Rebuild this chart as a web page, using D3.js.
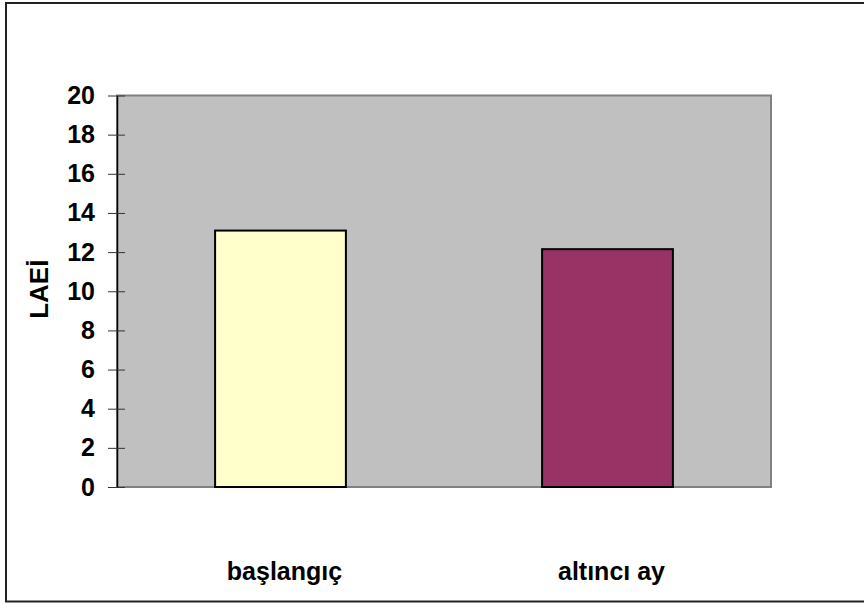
<!DOCTYPE html>
<html>
<head>
<meta charset="utf-8">
<script src="https://cdn.jsdelivr.net/npm/d3@7"></script>
<style>
  html, body { margin: 0; padding: 0; background: #fff; }
  svg { display: block; }
  text { font-family: "Liberation Sans", Arial, sans-serif; font-weight: bold; fill: #000; }
</style>
</head>
<body>
<script>
// Chart data
const categories = ["başlangıç", "altıncı ay"];
const values = [13.1, 12.15];
const barColors = ["#ffffcc", "#993366"];
const yTicks = [0, 2, 4, 6, 8, 10, 12, 14, 16, 18, 20];
const yTitle = "LAEİ";

const W = 864, H = 604;
const plot = { left: 117, top: 95.5, right: 771, bottom: 487 };

const svg = d3.select("body").append("svg")
  .attr("width", W).attr("height", H);

// Outer chart frame
svg.append("rect")
  .attr("x", 6).attr("y", 3)
  .attr("width", 870).attr("height", 598.5)
  .attr("fill", "#fff")
  .attr("stroke", "#222").attr("stroke-width", 2);

const x = d3.scaleBand()
  .domain(categories)
  .range([plot.left, plot.right])
  .paddingInner(0.6)
  .paddingOuter(0.3);

const y = d3.scaleLinear()
  .domain([0, 20])
  .range([plot.bottom, plot.top]);

// Plot area background
svg.append("rect")
  .attr("x", plot.left).attr("y", plot.top)
  .attr("width", plot.right - plot.left)
  .attr("height", plot.bottom - plot.top)
  .attr("fill", "#c0c0c0")
  .attr("stroke", "#808080").attr("stroke-width", 2);

// Bars
svg.selectAll("rect.bar")
  .data(values)
  .join("rect")
  .attr("class", "bar")
  .attr("x", (d, i) => x(categories[i]))
  .attr("y", d => y(d))
  .attr("width", x.bandwidth())
  .attr("height", d => y(0) - y(d))
  .attr("fill", (d, i) => barColors[i])
  .attr("stroke", "#000").attr("stroke-width", 2);

// Y axis
const yAxis = d3.axisLeft(y)
  .tickValues(yTicks)
  .tickSize(0)
  .tickPadding(22);

const gy = svg.append("g")
  .attr("transform", `translate(${plot.left},0)`)
  .call(yAxis);
gy.attr("font-size", null).attr("font-family", null);
gy.select(".domain").attr("stroke", "#000").attr("stroke-width", 1.5);
gy.selectAll(".tick text")
  .style("font-size", "25px")
  .style("font-family", "'Liberation Sans', Arial, sans-serif")
  .style("font-weight", "bold")
  .attr("fill", "#000");
// Tick marks crossing the axis line
gy.selectAll(".tick").append("line")
  .attr("x1", -9).attr("x2", 8)
  .attr("stroke", "#333").attr("stroke-width", 1);

// Category labels
svg.selectAll("text.cat")
  .data(categories)
  .join("text")
  .attr("class", "cat")
  .attr("x", d => x(d) + x.bandwidth() / 2 + 4)
  .attr("y", 580)
  .attr("text-anchor", "middle")
  .style("font-size", "25px")
  .text(d => d);

// Y axis title
svg.append("text")
  .attr("transform", `translate(48,${(plot.top + plot.bottom) / 2 - 2}) rotate(-90)`)
  .attr("text-anchor", "middle")
  .style("font-size", "26px")
  .text(yTitle);
</script>
</body>
</html>
